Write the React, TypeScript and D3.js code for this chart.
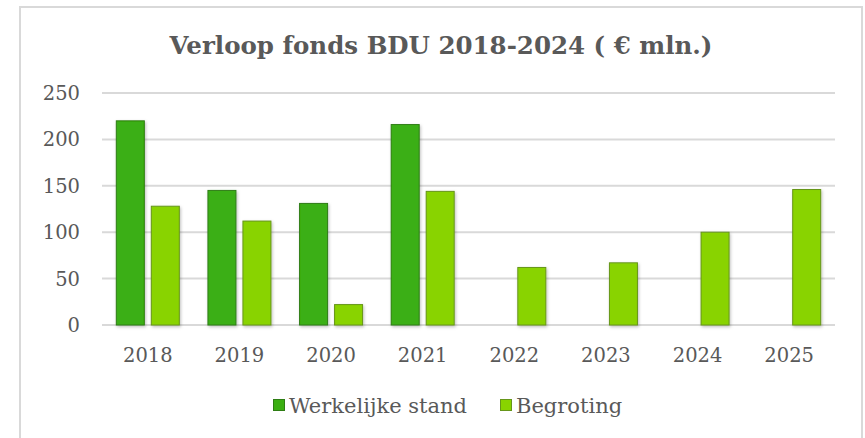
import React from "react";
import * as d3 from "d3";

const categories = ["2018", "2019", "2020", "2021", "2022", "2023", "2024", "2025"];
const werkelijk: (number | null)[] = [220, 145, 131, 216, null, null, null, null];
const begroting: number[] = [128, 112, 22, 144, 62, 67, 100, 146];
const yTicks = [0, 50, 100, 150, 200, 250];
const seriesNames = ["Werkelijke stand", "Begroting"];
const title = "Verloop fonds BDU 2018-2024 ( € mln.)";

const W = 865, H = 438;
const plot = { left: 102, right: 835, top: 93, bottom: 325 };
const colors = { dark: "#3BAF12", darkStroke: "#2E7D14", light: "#89D300", lightStroke: "#66961A" };
const textColor = "#595959";
const font = "'DejaVu Serif', Georgia, serif";

export default function App() {
  const x = d3.scaleBand<string>().domain(categories).range([plot.left, plot.right]).padding(0);
  const y = d3.scaleLinear().domain([0, 250]).range([plot.bottom, plot.top]);
  const bw = 28, gap = 7;
  const groupW = bw * 2 + gap;

  return (
    <svg width={W} height={H} style={{ position: "absolute", left: 0, top: 0, background: "#fff" }}>
      <defs>
        <filter id="sh" x="-30%" y="-10%" width="160%" height="130%">
          <feDropShadow dx="1" dy="1.5" stdDeviation="1.5" floodColor="#000" floodOpacity="0.25" />
        </filter>
      </defs>
      <rect x={0} y={0} width={W} height={H} fill="#fff" />
      <path d={`M20,${H} V7 H862 V${H}`} fill="none" stroke="#d9d9d9" strokeWidth={2} />
      <text x={441} y={54} textAnchor="middle" fontFamily={font} fontWeight="bold" fontSize={24.5} fill={textColor}>{title}</text>
      {yTicks.map(t => (
        <g key={t}>
          <line x1={plot.left} x2={plot.right} y1={y(t)} y2={y(t)} stroke="#d9d9d9" strokeWidth={2} />
          <text x={80} y={y(t) + 7} textAnchor="end" fontFamily={font} fontSize={19.5} fill={textColor}>{t}</text>
        </g>
      ))}
      {categories.map((c, i) => {
        const cx = x(c)! + x.bandwidth() / 2;
        const x0 = cx - groupW / 2;
        const wv = werkelijk[i];
        const bv = begroting[i];
        return (
          <g key={c}>
            {wv != null && (
              <rect x={x0} y={y(wv)} width={bw} height={y(0) - y(wv)} fill={colors.dark} stroke={colors.darkStroke} strokeWidth={1} filter="url(#sh)" />
            )}
            <rect x={x0 + bw + gap} y={y(bv)} width={bw} height={y(0) - y(bv)} fill={colors.light} stroke={colors.lightStroke} strokeWidth={1} filter="url(#sh)" />
            <text x={cx} y={362} textAnchor="middle" fontFamily={font} fontSize={19.5} fill={textColor}>{c}</text>
          </g>
        );
      })}
      <g fontFamily={font} fontSize={21} fill={textColor}>
        <rect x={273.5} y={399.5} width={11} height={11} fill={colors.dark} stroke={colors.darkStroke} />
        <text x={289} y={413}>{seriesNames[0]}</text>
        <rect x={500.5} y={399.5} width={11} height={11} fill={colors.light} stroke={colors.lightStroke} />
        <text x={516} y={413}>{seriesNames[1]}</text>
      </g>
    </svg>
  );
}
